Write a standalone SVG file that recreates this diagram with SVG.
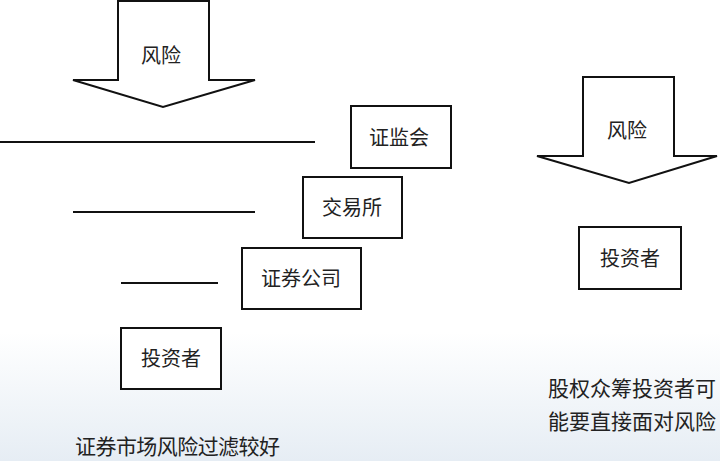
<svg xmlns="http://www.w3.org/2000/svg" width="720" height="461" viewBox="0 0 720 461">
<defs>
<linearGradient id="bg" x1="0" y1="0" x2="0" y2="461" gradientUnits="userSpaceOnUse">
<stop offset="0" stop-color="#ffffff"/>
<stop offset="0.72" stop-color="#ffffff"/>
<stop offset="1" stop-color="#e6edf4"/>
</linearGradient>
<style>
.shape{fill:#ffffff;stroke:#111111;stroke-width:2}
.ln{stroke:#111111;stroke-width:2}
.t{font-family:"Noto Sans CJK SC","Noto Sans CJK JP",sans-serif;font-size:20px;fill:#222222;text-anchor:middle}
.b{font-family:"Noto Sans CJK SC","Noto Sans CJK JP",sans-serif;font-size:21px;fill:#222222}
</style>
</defs>
<rect x="0" y="0" width="720" height="461" fill="url(#bg)"/>
<g id="connectors">
<line class="ln" x1="0" y1="142" x2="315" y2="142"/>
<line class="ln" x1="73" y1="212" x2="255" y2="212"/>
<line class="ln" x1="121" y1="283" x2="218" y2="283"/>
</g>
<g id="arrow-left">
<polygon class="shape" points="118,1 209,1 209,80 255,80 163,107 73,80 118,80"/>
<text class="t" x="161" y="63">风险</text>
</g>
<g id="arrow-right">
<polygon class="shape" points="583,77 674,77 674,156 717,156 629,183 537,156 583,156"/>
<text class="t" x="627" y="138">风险</text>
</g>
<g id="zhengjianhui">
<rect class="shape" x="351" y="106" width="100" height="62"/>
<text class="t" x="399" y="145">证监会</text>
</g>
<g id="jiaoyisuo">
<rect class="shape" x="303" y="177" width="99" height="61"/>
<text class="t" x="352" y="215">交易所</text>
</g>
<g id="zhengquangongsi">
<rect class="shape" x="242" y="248" width="119" height="61"/>
<text class="t" x="301" y="286">证券公司</text>
</g>
<g id="touzizhe-left">
<rect class="shape" x="121" y="328" width="100" height="61"/>
<text class="t" x="171" y="366">投资者</text>
</g>
<g id="touzizhe-right">
<rect class="shape" x="579" y="227" width="102" height="62"/>
<text class="t" x="630" y="266">投资者</text>
</g>
<g id="captions">
<text class="b" x="548" y="396">股权众筹投资者可</text>
<text class="b" x="548" y="429">能要直接面对风险</text>
<text class="b" x="75" y="454" textLength="205">证券市场风险过滤较好</text>
</g>
</svg>
